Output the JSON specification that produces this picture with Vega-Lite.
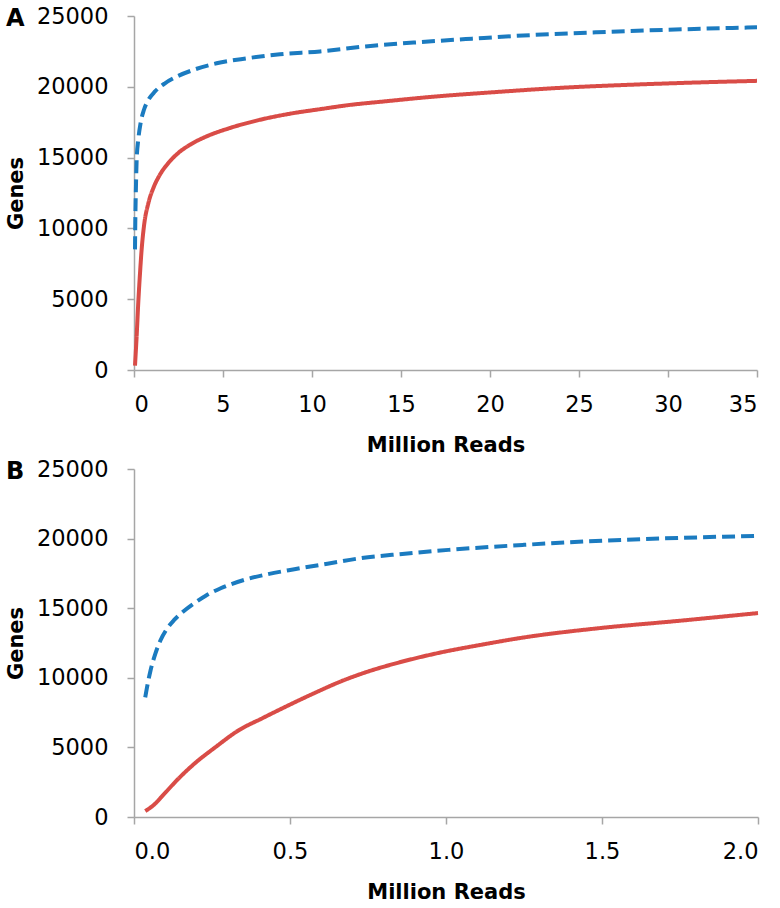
{
  "$schema": "https://vega.github.io/schema/vega-lite/v6.json",
  "padding": {"left": 5, "right": 0, "top": 5, "bottom": 2},
  "config": {
    "font": "DejaVu Sans",
    "view": {"stroke": null},
    "axis": {
      "grid": false,
      "domainColor": "#a6a6a6",
      "tickColor": "#a6a6a6",
      "domainWidth": 1.5,
      "tickWidth": 1.5,
      "tickSize": 7,
      "labelFont": "DejaVu Sans",
      "titleFont": "DejaVu Sans",
      "labelFontSize": 22.5,
      "labelColor": "#000000",
      "titleFontSize": 21,
      "titleFontWeight": "bold",
      "titleColor": "#000000"
    },
    "axisX": {"titlePadding": 19, "labelPadding": 16},
    "axisY": {"titlePadding": 10, "labelPadding": 19},
    "title": {"fontSize": 24, "fontWeight": "bold", "color": "#000000", "anchor": "start", "frame": "group", "font": "DejaVu Sans"}
  },
  "spacing": 2,
  "datasets": {
    "a": [
      {"series": "Set 1", "reads": 0.056, "genes": 305},
      {"series": "Set 1", "reads": 0.15, "genes": 2420},
      {"series": "Set 1", "reads": 0.24, "genes": 4760},
      {"series": "Set 1", "reads": 0.34, "genes": 6880},
      {"series": "Set 1", "reads": 0.43, "genes": 8520},
      {"series": "Set 1", "reads": 0.56, "genes": 10160},
      {"series": "Set 1", "reads": 0.81, "genes": 11800},
      {"series": "Set 1", "reads": 1.09, "genes": 12860},
      {"series": "Set 1", "reads": 1.46, "genes": 13800},
      {"series": "Set 1", "reads": 1.93, "genes": 14620},
      {"series": "Set 1", "reads": 2.49, "genes": 15330},
      {"series": "Set 1", "reads": 3.15, "genes": 15910},
      {"series": "Set 1", "reads": 4.08, "genes": 16500},
      {"series": "Set 1", "reads": 5.39, "genes": 17090},
      {"series": "Set 1", "reads": 7.08, "genes": 17670},
      {"series": "Set 1", "reads": 8.95, "genes": 18140},
      {"series": "Set 1", "reads": 10.45, "genes": 18420},
      {"series": "Set 1", "reads": 12.0, "genes": 18700},
      {"series": "Set 1", "reads": 14.0, "genes": 18960},
      {"series": "Set 1", "reads": 16.8, "genes": 19300},
      {"series": "Set 1", "reads": 20.0, "genes": 19600},
      {"series": "Set 1", "reads": 24.3, "genes": 19950},
      {"series": "Set 1", "reads": 28.0, "genes": 20150},
      {"series": "Set 1", "reads": 31.5, "genes": 20300},
      {"series": "Set 1", "reads": 35.0, "genes": 20420},
      {"series": "Set 2", "reads": 0.056, "genes": 8520},
      {"series": "Set 2", "reads": 0.075, "genes": 10630},
      {"series": "Set 2", "reads": 0.11, "genes": 12980},
      {"series": "Set 2", "reads": 0.15, "genes": 14860},
      {"series": "Set 2", "reads": 0.24, "genes": 16260},
      {"series": "Set 2", "reads": 0.37, "genes": 17440},
      {"series": "Set 2", "reads": 0.56, "genes": 18380},
      {"series": "Set 2", "reads": 0.81, "genes": 19080},
      {"series": "Set 2", "reads": 1.18, "genes": 19670},
      {"series": "Set 2", "reads": 1.74, "genes": 20250},
      {"series": "Set 2", "reads": 2.4, "genes": 20720},
      {"series": "Set 2", "reads": 3.33, "genes": 21190},
      {"series": "Set 2", "reads": 4.64, "genes": 21660},
      {"series": "Set 2", "reads": 6.33, "genes": 22010},
      {"series": "Set 2", "reads": 8.2, "genes": 22300},
      {"series": "Set 2", "reads": 10.45, "genes": 22500},
      {"series": "Set 2", "reads": 13.0, "genes": 22850},
      {"series": "Set 2", "reads": 16.0, "genes": 23150},
      {"series": "Set 2", "reads": 19.0, "genes": 23400},
      {"series": "Set 2", "reads": 22.4, "genes": 23660},
      {"series": "Set 2", "reads": 26.0, "genes": 23850},
      {"series": "Set 2", "reads": 30.0, "genes": 24030},
      {"series": "Set 2", "reads": 35.0, "genes": 24200}
    ],
    "b": [
      {"series": "Set 1", "reads": 0.036, "genes": 430},
      {"series": "Set 1", "reads": 0.06, "genes": 800},
      {"series": "Set 1", "reads": 0.096, "genes": 1640},
      {"series": "Set 1", "reads": 0.14, "genes": 2700},
      {"series": "Set 1", "reads": 0.192, "genes": 3800},
      {"series": "Set 1", "reads": 0.26, "genes": 5000},
      {"series": "Set 1", "reads": 0.337, "genes": 6250},
      {"series": "Set 1", "reads": 0.41, "genes": 7080},
      {"series": "Set 1", "reads": 0.493, "genes": 8000},
      {"series": "Set 1", "reads": 0.58, "genes": 8920},
      {"series": "Set 1", "reads": 0.664, "genes": 9750},
      {"series": "Set 1", "reads": 0.75, "genes": 10450},
      {"series": "Set 1", "reads": 0.836, "genes": 11020},
      {"series": "Set 1", "reads": 0.92, "genes": 11500},
      {"series": "Set 1", "reads": 1.0, "genes": 11900},
      {"series": "Set 1", "reads": 1.1, "genes": 12320},
      {"series": "Set 1", "reads": 1.25, "genes": 12900},
      {"series": "Set 1", "reads": 1.48, "genes": 13540},
      {"series": "Set 1", "reads": 1.75, "genes": 14100},
      {"series": "Set 1", "reads": 2.0, "genes": 14650},
      {"series": "Set 2", "reads": 0.036, "genes": 8600},
      {"series": "Set 2", "reads": 0.045, "genes": 9700},
      {"series": "Set 2", "reads": 0.053, "genes": 10530},
      {"series": "Set 2", "reads": 0.068, "genes": 11700},
      {"series": "Set 2", "reads": 0.085, "genes": 12700},
      {"series": "Set 2", "reads": 0.105, "genes": 13500},
      {"series": "Set 2", "reads": 0.128, "genes": 14140},
      {"series": "Set 2", "reads": 0.16, "genes": 14800},
      {"series": "Set 2", "reads": 0.192, "genes": 15340},
      {"series": "Set 2", "reads": 0.23, "genes": 15900},
      {"series": "Set 2", "reads": 0.278, "genes": 16430},
      {"series": "Set 2", "reads": 0.353, "genes": 17030},
      {"series": "Set 2", "reads": 0.43, "genes": 17450},
      {"series": "Set 2", "reads": 0.514, "genes": 17800},
      {"series": "Set 2", "reads": 0.62, "genes": 18200},
      {"series": "Set 2", "reads": 0.729, "genes": 18600},
      {"series": "Set 2", "reads": 0.86, "genes": 18900},
      {"series": "Set 2", "reads": 1.008, "genes": 19190},
      {"series": "Set 2", "reads": 1.25, "genes": 19550},
      {"series": "Set 2", "reads": 1.5, "genes": 19850},
      {"series": "Set 2", "reads": 1.75, "genes": 20050},
      {"series": "Set 2", "reads": 2.0, "genes": 20200}
    ]
  },
  "vconcat": [
    {
      "width": 623,
      "height": 354,
      "title": {"text": "A", "dx": -128, "dy": 30},
      "data": {"name": "a"},
      "mark": {"type": "line", "strokeWidth": 4, "interpolate": "monotone"},
      "encoding": {
        "x": {"field": "reads", "type": "quantitative", "scale": {"domain": [0, 35], "nice": false}, "axis": {"values": [0, 5, 10, 15, 20, 25, 30, 35], "title": "Million Reads"}},
        "y": {"field": "genes", "type": "quantitative", "scale": {"domain": [0, 25000], "nice": false}, "axis": {"values": [0, 5000, 10000, 15000, 20000, 25000], "format": "d", "title": "Genes"}},
        "color": {"field": "series", "type": "nominal", "scale": {"domain": ["Set 1", "Set 2"], "range": ["#d94c47", "#1b7bc0"]}, "legend": null},
        "strokeDash": {"field": "series", "type": "nominal", "scale": {"domain": ["Set 1", "Set 2"], "range": [[1, 0], [13, 6]]}, "legend": null}
      }
    },
    {
      "width": 624,
      "height": 348,
      "title": {"text": "B", "dx": -128, "dy": 30},
      "data": {"name": "b"},
      "mark": {"type": "line", "strokeWidth": 4, "interpolate": "monotone"},
      "encoding": {
        "x": {"field": "reads", "type": "quantitative", "scale": {"domain": [0, 2], "nice": false}, "axis": {"values": [0, 0.5, 1, 1.5, 2], "format": ".1f", "title": "Million Reads"}},
        "y": {"field": "genes", "type": "quantitative", "scale": {"domain": [0, 25000], "nice": false}, "axis": {"values": [0, 5000, 10000, 15000, 20000, 25000], "format": "d", "title": "Genes"}},
        "color": {"field": "series", "type": "nominal", "scale": {"domain": ["Set 1", "Set 2"], "range": ["#d94c47", "#1b7bc0"]}, "legend": null},
        "strokeDash": {"field": "series", "type": "nominal", "scale": {"domain": ["Set 1", "Set 2"], "range": [[1, 0], [13, 6]]}, "legend": null}
      }
    }
  ]
}
